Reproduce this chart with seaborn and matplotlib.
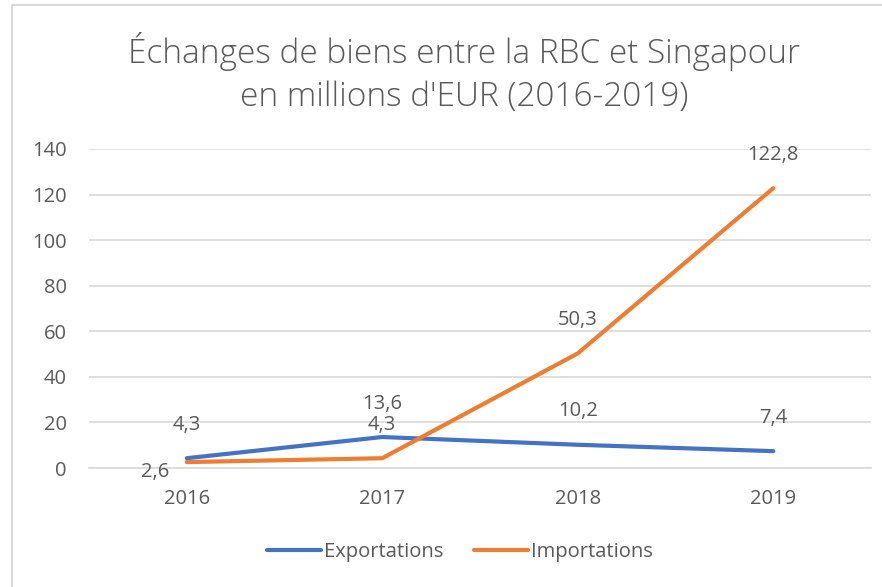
import numpy as np
import pandas as pd
import seaborn as sns
from matplotlib import pyplot as plt
from matplotlib.lines import Line2D

years = ['2016', '2017', '2018', '2019']
exportations = [4.3, 13.6, 10.2, 7.4]
importations = [2.6, 4.3, 50.3, 122.8]
series_names = ['Exportations', 'Importations']
colors = ['#4472C4', '#ED7D31']

df = pd.DataFrame({'Année': years * 2,
                   'Valeur': exportations + importations,
                   'Série': [series_names[0]] * 4 + [series_names[1]] * 4})

sns.set_theme(style='white')
plt.rcParams['font.family'] = ['Open Sans', 'DejaVu Sans']
txt = '#595959'
fs = 14.5

fig = plt.figure(figsize=(8.82, 5.87), dpi=100)
ax = fig.add_axes([0.1009, 0.2027, 0.8866, 0.5435])

sns.lineplot(data=df, x='Année', y='Valeur', hue='Série', palette=colors,
             linewidth=3.0, sort=False, ax=ax, legend=False)
for line in ax.lines:
    line.set_solid_capstyle('round')
    line.set_solid_joinstyle('round')

ax.set_xlim(-0.5, 3.5)
ax.set_ylim(0, 140)
ax.set_yticks(np.arange(0, 141, 20))
ax.yaxis.grid(True, color='#D9D9D9', linewidth=1.2)
ax.set_axisbelow(True)
for s in ax.spines.values():
    s.set_visible(False)
ax.spines['bottom'].set_visible(True)
ax.spines['bottom'].set_color('#D9D9D9')
ax.spines['bottom'].set_linewidth(1.2)
ax.tick_params(axis='both', colors=txt, labelsize=fs, length=0)
ax.tick_params(axis='y', pad=16)
ax.tick_params(axis='x', pad=15)
ax.set_xlabel('')
ax.set_ylabel('')

def fmt(v):
    return f'{v:.1f}'.replace('.', ',')

# data labels
for i, v in enumerate(exportations):
    ax.annotate(fmt(v), (i, v), xytext=(0, 24), textcoords='offset points',
                ha='center', va='center', fontsize=fs, color=txt)
for i, v in enumerate(importations):
    if i == 0:
        off = (-23, -7)
    else:
        off = (0, 24)
    ax.annotate(fmt(v), (i, v), xytext=off, textcoords='offset points',
                ha='center', va='center', fontsize=fs, color=txt)

fig.text(0.526, 0.876, "Échanges de biens entre la RBC et Singapour\nen millions d'EUR (2016-2019)",
         ha='center', va='center', fontsize=24, color=txt, linespacing=1.35,
         fontweight='light', multialignment='center')

handles = [Line2D([0], [0], color=c, linewidth=3.0, solid_capstyle='round') for c in colors]
fig.legend(handles, series_names, loc='center', bbox_to_anchor=(0.5215, 0.06), ncol=2,
           frameon=False, fontsize=fs, labelcolor=txt, handlelength=2.7,
           handletextpad=0.15, columnspacing=1.5)

# chart border (top and left)
fig.add_artist(Line2D([12 / 882, 12 / 882], [0, 1 - 5 / 587], color='#D9D9D9', linewidth=1.5,
                      transform=fig.transFigure))
fig.add_artist(Line2D([12 / 882, 1], [1 - 5 / 587, 1 - 5 / 587], color='#D9D9D9', linewidth=1.5,
                      transform=fig.transFigure))

fig.savefig('out.png', dpi=100)
